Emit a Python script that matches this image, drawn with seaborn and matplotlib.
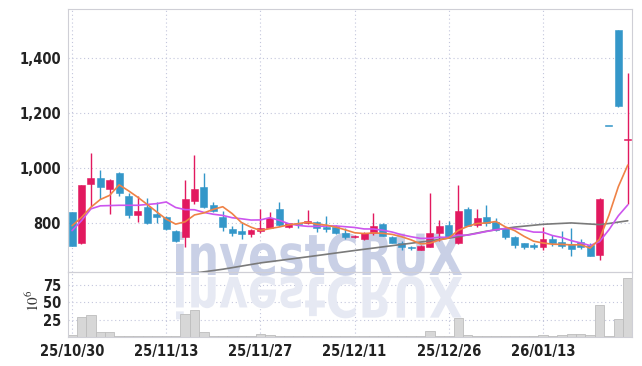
import numpy as np
import pandas as pd
import matplotlib
matplotlib.use('Agg')
import matplotlib.pyplot as plt
import seaborn as sns
from matplotlib.textpath import TextPath
from matplotlib.patches import PathPatch
from matplotlib.font_manager import FontProperties, fontManager
from matplotlib.transforms import Affine2D

# ---------------- data ----------------
tick_idx = [0, 10, 20, 30, 40, 50]
tick_labels = ["25/10/30", "25/11/13", "25/11/27", "25/12/11", "25/12/26", "26/01/13"]

open_ = [838, 726, 942, 964, 924, 982, 899, 827, 859, 833,
         823, 772, 748, 881, 932, 865, 823, 778, 772, 760,
         772, 782, 851, 787, 800, 799, 805, 784, 784, 765,
         748, 740, 762, 796, 750, 726, 714, 703, 714, 762,
         794, 726, 851, 794, 823, 802, 782, 750, 726, 719,
         711, 742, 730, 724, 730, 721, 684, 1153, 1499, 1100]
high = [840, 938, 1053, 993, 960, 985, 908, 899, 891, 875,
        825, 774, 956, 1047, 982, 875, 842, 790, 802, 778,
        851, 839, 875, 801, 813, 848, 806, 825, 793, 782,
        757, 768, 836, 798, 752, 736, 717, 719, 909, 811,
        808, 936, 857, 851, 866, 818, 784, 754, 727, 726,
        787, 757, 772, 782, 742, 726, 890, 1153, 1500, 1345]
low = [716, 724, 863, 887, 833, 899, 818, 802, 796, 800,
       776, 730, 714, 869, 855, 838, 772, 754, 742, 750,
       762, 780, 790, 782, 782, 797, 766, 766, 760, 742,
       745, 738, 756, 752, 726, 700, 700, 700, 712, 736,
       746, 724, 788, 787, 790, 770, 740, 709, 705, 705,
       702, 717, 709, 681, 705, 679, 665, 1153, 1220, 870]
close = [718, 936, 964, 929, 954, 908, 827, 845, 799, 820,
         778, 736, 887, 924, 857, 842, 784, 762, 760, 775,
         782, 818, 792, 799, 796, 808, 780, 778, 762, 748,
         754, 765, 790, 754, 729, 711, 709, 717, 765, 789,
         748, 845, 790, 818, 798, 775, 748, 721, 714, 711,
         742, 726, 718, 705, 714, 681, 887, 1153, 1223, 1105]
volume = [2.5, 29, 32, 7, 7, 2, 1.5, 1.5, 1, 1,
          1, 1.5, 33.5, 39, 7, 1.5, 1.5, 1.5, 1, 1,
          5, 3, 1, 1, 0.8, 0.8, 1.5, 1.5, 0.8, 0.8,
          0.8, 1.2, 1.5, 0.8, 0.8, 0.8, 0.8, 0.8, 8, 2,
          1, 27.5, 3, 1.5, 1.5, 1.5, 1.5, 0.8, 0.8, 1,
          2.5, 1, 2.5, 4, 4, 3, 46.5, 1.5, 26, 85]

# moving-average values before enough visible history exists
ma5_head = [790, 820, 857, 885]
ma10_head = [772, 808, 851, 862, 863, 864, 864, 864, 867]
ma60_idx = [13, 16, 20, 25, 30, 35, 38, 41, 44, 47, 50, 53, 55, 56, 57, 58]
ma60_val = [618, 632, 655, 677, 700, 722, 735, 750, 770, 785, 795, 800, 796, 794, 798, 803]

# ---------------- derived ----------------
n = len(close)
idx = np.arange(n)
cs = pd.Series(close, dtype=float)
ma5 = cs.rolling(5).mean().to_numpy()
ma5[:len(ma5_head)] = ma5_head
ma10 = cs.rolling(10).mean().to_numpy()
ma10[:len(ma10_head)] = ma10_head
ma60_x = ma60_idx + [n - 1]
ma60_y = ma60_val + [float(np.mean(close))]

RED = '#e2195f'
BLUE = '#3497c9'
colors = [RED if c > o else BLUE for o, c in zip(open_, close)]

# ---------------- fonts ----------------
names = {f.name for f in fontManager.ttflist}
cond = [f for f in fontManager.ttflist if f.name == 'DejaVu Sans' and 'ondensed' in f.fname and 'Bold' in f.fname]
if 'Liberation Sans Narrow' in names:
    label_fp = FontProperties(family='Liberation Sans Narrow', weight='bold', size=11)
elif cond:
    label_fp = FontProperties(fname=cond[0].fname, size=10.5)
else:
    label_fp = FontProperties(family='Roboto', weight='bold', size=10)

# ---------------- figure ----------------
sns.set_theme(style='white')
plt.rcParams['font.family'] = ['DejaVu Sans']
plt.rcParams['mathtext.fontset'] = 'stix'

W, H = 642, 366
fig = plt.figure(figsize=(W / 100, H / 100), dpi=100, facecolor='white')
L, R = 68 / W, 632 / W
ax = fig.add_axes([L, 1 - 272 / H, R - L, (272 - 9) / H])
axv = fig.add_axes([L, 1 - 337 / H, R - L, (337 - 272) / H], sharex=ax)
for a in (ax, axv):
    a.set_facecolor('none')
    a.set_axisbelow(True)
    for s in a.spines.values():
        s.set_color('#cfcfd6')
        s.set_linewidth(0.8)
    a.grid(True, linestyle=(0, (1, 2.5)), color='#c3c6dc', linewidth=0.8)

# candles
body_bottom = [min(o, c) for o, c in zip(open_, close)]
body_h = [max(abs(c - o), 3) for o, c in zip(open_, close)]
ax.vlines(idx, low, high, colors=colors, linewidth=1.0, zorder=3)
ax.bar(idx, body_h, bottom=body_bottom, width=0.74, color=colors,
       edgecolor=colors, linewidth=0.4, zorder=3.1)

# moving averages
sns.lineplot(x=ma60_x, y=ma60_y, ax=ax, color='#7a7a7a', linewidth=1.2, zorder=4, legend=False)
sns.lineplot(x=idx, y=ma10, ax=ax, color='#cc55ee', linewidth=1.2, zorder=4.1, legend=False)
sns.lineplot(x=idx, y=ma5, ax=ax, color='#ef8246', linewidth=1.2, zorder=4.2, legend=False)

ax.set_xlim(-0.43, 59.45)
ax.set_ylim(622, 1576)
ax.set_yticks([800, 1000, 1200, 1400])
ax.set_yticklabels([f'{v:,}' for v in [800, 1000, 1200, 1400]])
ax.tick_params(axis='y', length=0, pad=5, labelcolor='#222222')
ax.tick_params(axis='x', length=0, labelbottom=False)
for t in ax.get_yticklabels():
    t.set_fontproperties(label_fp)
ax.set_xlabel('')
ax.set_ylabel('')

# volume
sns.barplot(x=idx, y=volume, ax=axv, native_scale=True, width=1.0, color='#d7d7d7',
            saturation=1, edgecolor='#bdbdbd', linewidth=0.6, errorbar=None, zorder=2)
axv.set_xlim(-0.43, 59.45)
axv.set_ylim(0, 94)
axv.set_yticks([25, 50, 75])
axv.set_yticklabels(['25', '50', '75'])
axv.set_xticks(tick_idx)
axv.set_xticklabels(tick_labels)
axv.tick_params(axis='both', length=0, labelcolor='#222222')
axv.tick_params(axis='y', pad=5)
axv.tick_params(axis='x', pad=5)
for t in axv.get_yticklabels() + axv.get_xticklabels():
    t.set_fontproperties(label_fp)
axv.set_xlabel('')
axv.set_ylabel('')
fig.text(33 / W, 1 - 301 / H, r'$10^6$', rotation=90, ha='center', va='center',
         fontsize=11, color='#333333')

# watermark with reflection
fp = FontProperties(family='DejaVu Sans', weight='bold')
tp = TextPath((0, 0), 'investCRUX', size=100, prop=fp)
ext = tp.get_extents()
sx = (462 - 176) / ext.width
sy = 44 / ext.height
tr_main = Affine2D().translate(-ext.x0, 0).scale(sx, sy).translate(176, H - 275)
tr_refl = Affine2D().translate(-ext.x0, 0).scale(sx, -sy * 0.98).translate(176, H - 277)
p1 = PathPatch(tp, facecolor='#c9d0e6', edgecolor='none', zorder=1.5)
p1.set_clip_on(False)
ax.add_artist(p1)
p1.set_transform(tr_main)
p2 = PathPatch(tp, facecolor='#e6e9f3', edgecolor='none', zorder=1.5)
p2.set_clip_on(False)
axv.add_artist(p2)
p2.set_transform(tr_refl)

fig.savefig('out.png', dpi=100, facecolor='white')
